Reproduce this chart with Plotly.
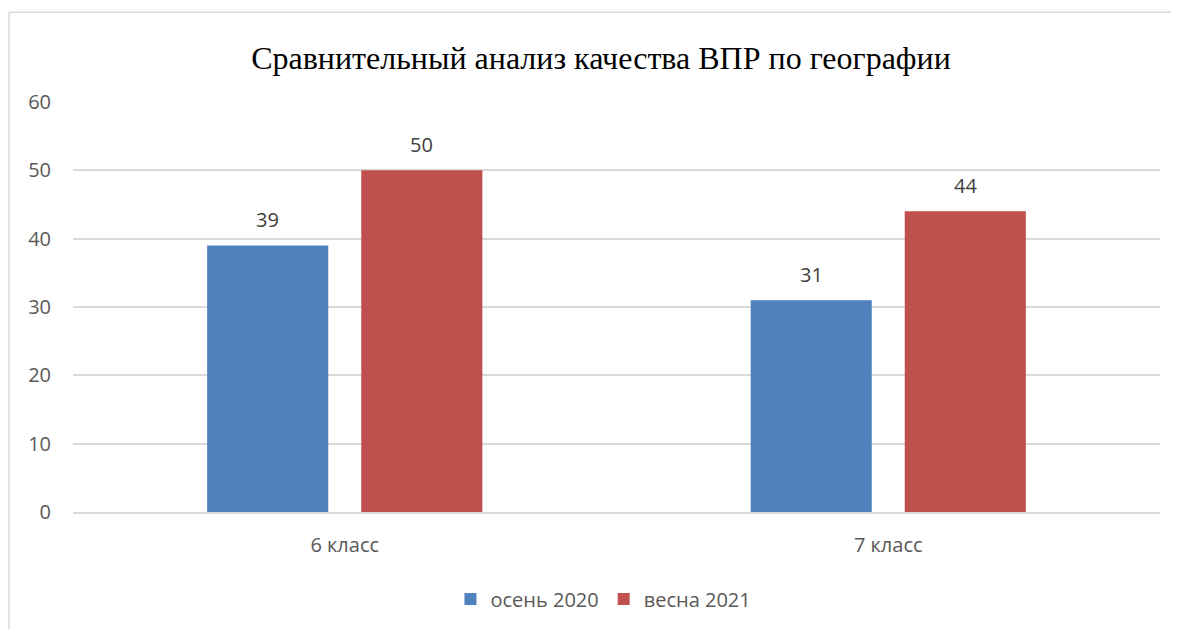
import plotly.graph_objects as go

categories = ["6 класс", "7 класс"]
series_names = ["осень 2020", "весна 2021"]
autumn_2020 = [39, 31]
spring_2021 = [50, 44]
y_ticks = [0, 10, 20, 30, 40, 50, 60]
title_text = "Сравнительный анализ качества ВПР по географии"

colors = ["#4F81BD", "#C0504D"]
series_values = [autumn_2020, spring_2021]

fig = go.Figure()
for name, vals, col in zip(series_names, series_values, colors):
    fig.add_trace(go.Bar(
        x=categories, y=vals, name=name,
        marker=dict(color=col, line=dict(width=0)),
    ))

# data labels above bars
shifts = [-77, 77]
for vals, xs in zip(series_values, shifts):
    for c, v in zip(categories, vals):
        fig.add_annotation(
            x=c, y=v, text=str(v), showarrow=False,
            xshift=xs, yshift=26, yanchor="middle",
            font=dict(family="Open Sans", size=20, color="#404040"),
        )

# frame lines (top and left edges of the chart box)
fig.add_shape(type="line", xref="paper", yref="paper",
              x0=-0.0589, x1=1.05, y0=1.219, y1=1.219,
              line=dict(color="#d9d9d9", width=1.5))
fig.add_shape(type="line", xref="paper", yref="paper",
              x0=-0.0589, x1=-0.0589, y0=1.219, y1=-0.35,
              line=dict(color="#d9d9d9", width=1.5))

fig.update_layout(
    width=1171, height=621,
    margin=dict(l=65, r=19, t=94, b=116),
    paper_bgcolor="white", plot_bgcolor="white",
    bargap=0.433, bargroupgap=0.214,
    title=dict(text=title_text, x=593 / 1171, xanchor="center", y=1 - 50 / 621, yanchor="middle",
               font=dict(family="Liberation Serif", size=32, color="#000000")),
    legend=dict(orientation="h", x=0.488, xanchor="center", y=-0.209, yanchor="middle",
                font=dict(family="Open Sans", size=20, color="#595959")),
    showlegend=True,
)
fig.update_yaxes(range=[0, 60], tickvals=y_ticks, showgrid=True, gridcolor="#d9d9d9", gridwidth=1.5,
                 zeroline=False, showline=False, ticks="", ticklabelstandoff=21,
                 tickfont=dict(family="Open Sans", size=20, color="#595959"))
fig.update_xaxes(showline=True, linecolor="#d9d9d9", linewidth=1.5, ticks="", ticklabelstandoff=14,
                 tickfont=dict(family="Open Sans", size=20, color="#595959"))

fig.write_html("out.html")
